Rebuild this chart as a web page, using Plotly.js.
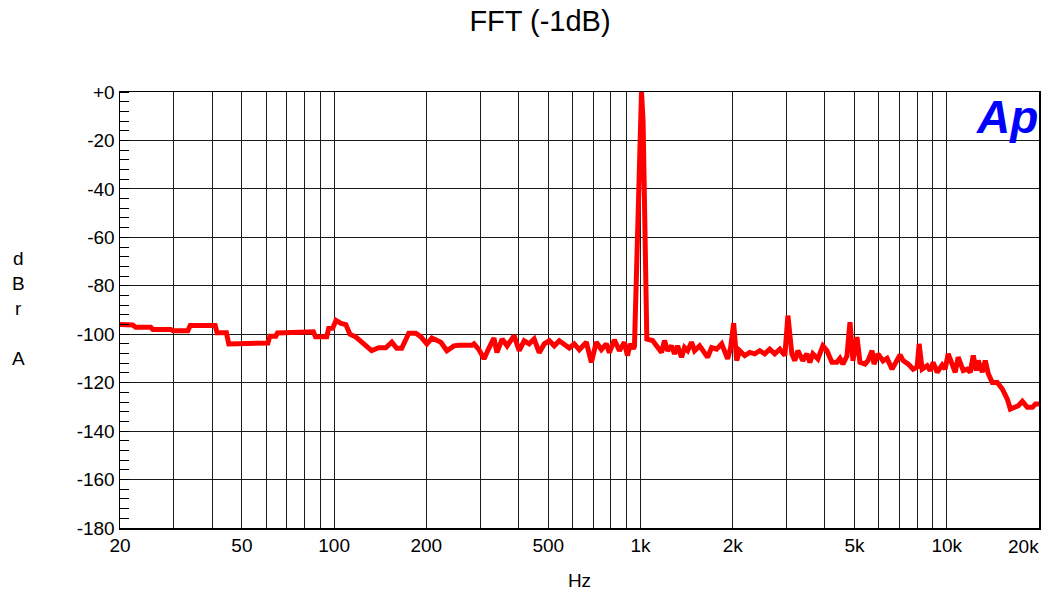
<!DOCTYPE html>
<html>
<head>
<meta charset="utf-8">
<script src="https://cdn.plot.ly/plotly-3.0.1.min.js"></script>
<style>html,body{margin:0;padding:0;background:#fff;}#chart{width:1043px;height:595px;}</style>
</head>
<body>
<div id="chart"></div>
<script>
// Frequency (Hz) and level (dBr A)
const freqHz = [
  20, 22, 22.5, 25.2, 25.6, 29.3, 29.8, 33.3, 33.9, 40.9, 41.5, 44.5, 45.3, 55.7, 56.5, 60.8,
  61.7, 64.5, 65.3, 75.7, 77.9, 85.6, 86.9, 94.6, 96, 99, 101.4, 105.3, 109.2, 112.6, 117.3, 120.3,
  132.6, 139.8, 147.4, 154.3, 160.1, 166.2, 175.3, 184.8, 191.8, 200.8, 208.5, 223.1, 233.4, 246.1,
  255.5, 281.8, 286.2, 297.2, 308.6, 320.2, 332.4, 340, 353.5, 367.1, 387, 401.8, 417.3, 433.3,
  449.9, 467.2, 485.2, 503.8, 523.2, 543.3, 564.2, 585.8, 608.2, 631.6, 665.8, 691.3, 717.8, 745.4,
  774, 791.6, 822.1, 853.6, 886.3, 906.6, 927.4, 948.6, 956, 977, 996, 1008, 1020, 1036,
  1049, 1095, 1137, 1172, 1198, 1226, 1263, 1292, 1322, 1362, 1393, 1426, 1468, 1502, 1560, 1619,
  1657, 1707, 1773, 1841, 1883, 1926, 1970, 2015, 2061, 2108, 2189, 2274, 2361, 2452, 2545, 2643,
  2744, 2851, 2961, 3029, 3120, 3191, 3264, 3389, 3493, 3573, 3654, 3795, 3940, 4061, 4217, 4379,
  4479, 4581, 4721, 4830, 4940, 5091, 5208, 5408, 5531, 5701, 5787, 5964, 6193, 6383, 6628, 6780,
  7040, 7201, 7476, 7763, 8001, 8122, 8308, 8627, 8824, 9026, 9302, 9659, 9880, 10106, 10415,
  10654, 10897, 11316, 11662, 11929, 12201, 12480, 12670, 13058, 13356, 13662, 14076, 14618, 15179,
  15762, 16123, 16491, 17123, 17648, 18325, 19029, 19465, 20000
];
const levelDb = [
  -96, -96.2, -97.1, -97.1, -98, -98, -98.6, -98.6, -96.4, -96.4, -99.4, -99.4, -104, -104, -103.6, -103.6,
  -100.8, -100.8, -99.5, -99.5, -99, -99, -101, -101, -97.6, -97.5, -94.3, -95.5, -96, -100, -101, -102.3,
  -106.8, -105.6, -105.6, -103.3, -105.8, -105.8, -99.6, -99.6, -101, -104, -101.6, -103.3, -106.8, -104.8,
  -104.6, -104.6, -104, -106.4, -110.2, -105.7, -101.6, -107.5, -102, -104.8, -100.6, -106.8, -102.7, -104,
  -102, -107.6, -104, -102.7, -104.8, -102.7, -104, -105.7, -104, -106.4, -103.3, -111.6, -103.3, -106.4,
  -104, -107.6, -102.3, -106.8, -103.3, -108.8, -104, -106, -105, -55, -12, 0, -12, -55,
  -102, -102.6, -105.4, -107.5, -102.6, -106.8, -104.8, -108.1, -104.8, -109.5, -105.5, -106.8, -103.3, -106.8, -104.8, -108.1,
  -109.5, -105.5, -106.2, -104, -106.8, -110.2, -105.5, -95.4, -110.9, -106.8, -108.8, -107.5, -108.1, -106.8, -108.1, -106.2,
  -108.1, -106.2, -108.8, -92.3, -108.1, -110.9, -106.8, -110.9, -108.1, -111.6, -108.1, -110.2, -104.8, -106.8, -111.6, -111.6,
  -110, -112.3, -109, -95, -111, -101.2, -111.6, -112.3, -110.9, -106.8, -112.3, -108.1, -111, -110, -114.4, -112.3,
  -108.5, -110.9, -112.3, -114.4, -113.6, -104, -114.4, -113, -115, -111.6, -115.7, -112.7, -114.4, -108.1, -113,
  -115.7, -109.5, -115, -114.4, -115.7, -108.8, -115, -110.9, -115.7, -110.9, -116.3, -119.9, -119.9, -122.6,
  -126.8, -130.9, -130.2, -129.5, -127.7, -130.2, -130.2, -128.8, -128.8
];

const xGridVals = [20,30,40,50,60,70,80,90,100,200,300,400,500,600,700,800,900,1000,2000,3000,4000,5000,6000,7000,8000,9000,10000,20000];
const xLabelVals = [20,50,100,200,500,1000,2000,5000,10000];
const xLabelText = ['20','50','100','200','500','1k','2k','5k','10k'];
const xEndLabel = '20k';
const yTickVals = [0,-20,-40,-60,-80,-100,-120,-140,-160,-180];
const yTickText = ['+0','-20','-40','-60','-80','-100','-120','-140','-160','-180'];

const xText = xGridVals.map(v => { const i = xLabelVals.indexOf(v); return i >= 0 ? xLabelText[i] : ''; });
const yMinor = [];
for (let v = 0; v >= -180; v -= 4) yMinor.push(v);

const font = 'Liberation Sans, Arial, sans-serif';
const plotTop = 92, plotBottom = 528, plotH = plotBottom - plotTop, plotL = 120, plotW = 919;
const py = px => (plotBottom - px) / plotH;
const pxx = px => (px - plotL) / plotW;
const letters = [['d',258],['B',283],['r',308],['A',358]];

const annotations = letters.map(([t, y]) => ({
  text: t, xref: 'paper', yref: 'paper', x: pxx(18), y: py(y),
  xanchor: 'center', yanchor: 'middle', showarrow: false,
  font: {family: font, size: 19, color: '#000'}
}));
annotations.push({
  text: xEndLabel, xref: 'paper', yref: 'paper', x: pxx(1041), y: py(546),
  xanchor: 'right', yanchor: 'middle', showarrow: false,
  font: {family: font, size: 19, color: '#000'}
});
annotations.push({
  text: '<b><i>Ap</i></b>', xref: 'paper', yref: 'paper', x: pxx(1007), y: py(117),
  xanchor: 'center', yanchor: 'middle', showarrow: false,
  font: {family: font, size: 46, color: '#0000ff'}
});

Plotly.newPlot('chart', [{
  x: freqHz, y: levelDb, type: 'scatter', mode: 'lines',
  line: {color: '#ff0000', width: 5}, hoverinfo: 'skip'
}], {
  width: 1043, height: 595,
  margin: {l: 120, r: 4, t: 92, b: 67},
  paper_bgcolor: '#fff', plot_bgcolor: '#fff',
  showlegend: false,
  title: {text: 'FFT (-1dB)', x: 540 / 1043, xanchor: 'center', xref: 'container',
          y: 1 - 21 / 595, yanchor: 'middle', yref: 'container',
          font: {family: font, size: 29, color: '#000'}},
  xaxis: {
    type: 'log', range: [Math.log10(20), Math.log10(20000)],
    tickmode: 'array', tickvals: xGridVals, ticktext: xText,
    showgrid: true, gridcolor: '#1a1a1a', gridwidth: 1,
    showline: true, mirror: true, linecolor: '#000', linewidth: 1.5,
    ticks: '', zeroline: false,
    tickfont: {family: font, size: 19, color: '#000'},
    title: {text: 'Hz', font: {family: font, size: 19, color: '#000'}, standoff: 18}
  },
  yaxis: {
    range: [-180, 0],
    tickmode: 'array', tickvals: yTickVals, ticktext: yTickText,
    showgrid: true, gridcolor: '#1a1a1a', gridwidth: 1,
    showline: true, mirror: true, linecolor: '#000', linewidth: 1.5,
    ticks: '', zeroline: false,
    tickfont: {family: font, size: 19, color: '#000'},
    minor: {tickmode: 'array', tickvals: yMinor, ticks: 'inside', ticklen: 9, tickcolor: '#000', tickwidth: 1, showgrid: false}
  },
  annotations: annotations
}, {displayModeBar: false, staticPlot: true});
</script>
</body>
</html>
